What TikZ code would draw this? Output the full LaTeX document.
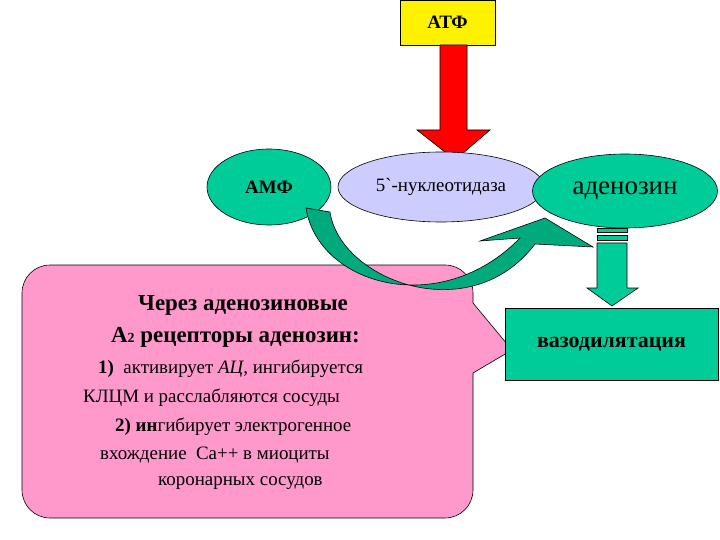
\documentclass[tikz,border=0pt]{standalone}
\usepackage{fontspec}
\setmainfont{Liberation Serif}
\newfontfamily\tnr{Liberation Serif}
\usetikzlibrary{shapes.geometric}
\begin{document}
\begin{tikzpicture}[x=1bp,y=-1bp,
  grn/.style={fill=green1,draw=black,line width=0.6pt},
  txtn/.style={font=\tnr\fontsize{19}{21}\selectfont,anchor=west,inner sep=0pt},
  txtb/.style={font=\tnr\bfseries\fontsize{23}{25}\selectfont,anchor=west,inner sep=0pt}]
\definecolor{green1}{RGB}{0,204,153}
\definecolor{green2}{RGB}{0,170,125}
\definecolor{lav}{RGB}{204,204,255}
\definecolor{pinkc}{RGB}{255,153,204}
\useasboundingbox (0,0) rectangle (720,540);
% ATP box and red arrow
\node[draw=black,fill=yellow,minimum width=95bp,minimum height=45bp,inner sep=0pt,font=\tnr\bfseries\fontsize{19}{21}\selectfont] (atp) at (447.5,22.5) {АТФ};
\draw[fill=red,draw=black,line width=0.6pt] (440,45) -- (467,45) -- (467,130) -- (490,130) -- (455,160) -- (417,130) -- (440,130) -- cycle;
% ellipses
\node[grn,ellipse,minimum width=124bp,minimum height=76bp,inner sep=0pt,font=\tnr\bfseries\fontsize{19}{21}\selectfont] (amp) at (269,187) {АМФ};
\node[ellipse,fill=lav,draw=black,line width=0.6pt,minimum width=206bp,minimum height=70bp,inner sep=0pt,font=\tnr\fontsize{19}{21}\selectfont] (nuc) at (441,187) {5`-нуклеотидаза};
\node[grn,ellipse,minimum width=185bp,minimum height=74bp,inner sep=0pt,font=\tnr\fontsize{27}{29}\selectfont] (ade) at (625,191) {аденозин};
% callout
\draw[fill=pinkc,draw=black,line width=0.6pt] (512,350) -- (473,373) [rounded corners=28bp] -- (473,518) -- (22,518) -- (22,265) -- (473,265) [sharp corners] -- (473,303) -- cycle;
\node[txtb] (l1) at (138,305) {Через аденозиновые};
\node[txtb] (l2) at (111,337) {А{\fontsize{14}{14}\selectfont 2} рецепторы аденозин:};
\node[txtn] (l3) at (98,369) {\textbf{1)}\ \ активирует \textit{АЦ}, ингибируется};
\node[txtn] (l4) at (83,398) {КЛЦМ и расслабляются сосуды};
\node[txtn] (l5) at (115,427) {\textbf{2) ин}гибирует электрогенное};
\node[txtn] (l6) at (100,455) {вхождение \ Са++ в миоциты};
\node[txtn] (l7) at (158,483) {коронарных сосудов};
% curved arrow AMP -> adenosine
\draw[fill=green2,draw=black,line width=0.6pt]
  (306,208) .. controls (318,285) and (440,320) .. (520,238)
  -- (480,241) -- (545,218) -- (593,247) -- (535,244)
  .. controls (470,330) and (340,280) .. (330,212) -- cycle;
% striped down arrow
\fill[green1,draw=black,line width=0.4pt] (597,228) rectangle (627,232);
\fill[green1,draw=black,line width=0.4pt] (597,235) rectangle (627,240);
\draw[fill=green1,draw=black,line width=0.6pt] (597,243) -- (627,243) -- (627,288) -- (638,288) -- (612,306) -- (587,288) -- (597,288) -- cycle;
% vasodilation box
\node[grn,rectangle,minimum width=213bp,minimum height=72bp,inner sep=0pt,font=\tnr\bfseries\fontsize{22}{24}\selectfont] (vaso) at (611.5,344) {вазодилятация};
\end{tikzpicture}
\end{document}
